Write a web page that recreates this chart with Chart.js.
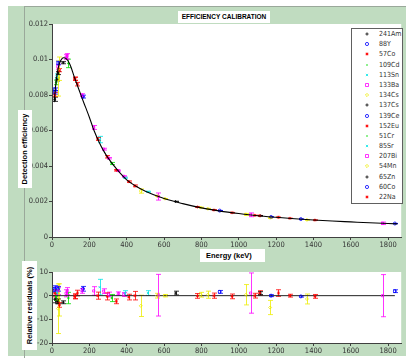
<!DOCTYPE html>
<html>
<head>
<meta charset="utf-8">
<script src="https://cdn.jsdelivr.net/npm/chart.js@4.4.0/dist/chart.umd.min.js"></script>
<style>
  html, body { margin: 0; padding: 0; background: #fff; overflow: hidden; width: 406px; height: 358px; }
  #page { position: relative; width: 406px; height: 358px; overflow: hidden; font-family: 'Liberation Sans', Arial, sans-serif; }
  #panel { position: absolute; left: 8px; top: 6px; width: 398px; height: 350px; background: #c0dcc0; }
  #vrule { position: absolute; left: 24px; top: 6px; width: 1px; height: 352px; background: #9aa89a; }
  #hrule { position: absolute; left: 24px; top: 6px; width: 382px; height: 1px; background: #9aa89a; }
  .plot { position: absolute; left: 0; }
  .box { position: absolute; background: #fff; font-weight: bold; color: #000; white-space: nowrap; }
  #title { left: 178px; top: 11px; width: 92px; height: 12px; line-height: 12px; font-size: 6.5px; text-align: center; }
  #xlabel { left: 200px; top: 249px; width: 65px; height: 13px; line-height: 13px; font-size: 7.5px; padding-left: 6px; box-sizing: border-box; }
  #ylabel { left: -14px; top: 142px; width: 78px; height: 14px; line-height: 14px; font-size: 7.5px; text-align: center; transform: rotate(-90deg); }
  #rlabel { left: -15px; top: 298px; width: 89px; height: 15px; line-height: 15px; font-size: 7.5px; text-align: center; transform: rotate(-90deg); }
  #legend { position: absolute; left: 351px; top: 28px; width: 50px; height: 174px; background: #fff; border: 1px solid #606060; }
  .row { position: relative; height: 10.2px; }
  .row canvas { position: absolute; left: 11px; top: 1px; }
  .row span { position: absolute; left: 27px; top: 0; line-height: 10.2px; font-family: 'Liberation Sans Narrow', 'DejaVu Sans Condensed', sans-serif; font-size: 7px; color: #333; }
  .etick { position: absolute; z-index: 5; transform: translateX(-50%); font-family: 'Liberation Sans Narrow', 'DejaVu Sans Condensed', sans-serif; font-size: 7.5px; line-height: 9px; color: #333; white-space: nowrap; }
</style>
</head>
<body>
<div id="page">
  <div id="panel"></div>
  <div id="vrule"></div>
  <div id="hrule"></div>
  <canvas class="plot" id="eff" width="406" height="250" style="top:0"></canvas>
  <canvas class="plot" id="res" width="406" height="100" style="top:258px"></canvas>
  <div class="box" id="title">EFFICIENCY CALIBRATION</div>
  <div class="box" id="xlabel">Energy (keV)</div>
  <div class="box" id="ylabel">Detection efficiency</div>
  <div class="box" id="rlabel">Relative residuals (%)</div>
  <div id="legend"></div>
</div>
<script>
// sources shown in the legend
const nuclides = ['241Am', '88Y', '57Co', '109Cd', '113Sn', '133Ba', '134Cs', '137Cs', '139Ce',
  '152Eu', '51Cr', '85Sr', '207Bi', '54Mn', '65Zn', '60Co', '22Na'];

// measured peaks: source index, energy (keV), efficiency, its uncertainty, residual (%), its uncertainty
const pointSource = [0, 0, 0, 1, 1, 1, 1, 2, 2, 2, 3, 3, 4, 4, 4, 5, 5, 5, 5, 5, 5, 5, 5,
  6, 6, 6, 6, 6, 6, 6, 6, 6, 7, 7, 8, 8, 9, 9, 9, 9, 9, 9, 9, 9, 9, 9, 9, 9, 9, 9,
  10, 11, 12, 12, 12, 12, 13, 14, 15, 15, 16];
const pointEnergy = [13.9, 26.3, 59.5, 14.1, 15.8, 898.0, 1836.1, 14.4, 122.1, 136.5, 22.1, 88.0,
  24.2, 255.1, 391.7, 30.9, 81.0, 160.6, 223.2, 276.4, 302.9, 356.0, 383.8,
  31.8, 36.4, 475.4, 563.2, 604.7, 795.9, 1038.6, 1168.0, 1365.2, 32.2, 661.7, 33.4, 165.9,
  39.9, 121.8, 244.7, 295.9, 344.3, 411.1, 444.0, 778.9, 867.4, 964.1, 1085.8, 1112.1, 1212.9, 1408.0,
  320.1, 514.0, 75.0, 569.7, 1063.7, 1770.2, 834.8, 1115.5, 1173.2, 1332.5, 1274.5];
const pointEfficiency = [0.00776, 0.00888, 0.00982, 0.00815, 0.00832, 0.001487, 0.00076, 0.00803, 0.00891, 0.00861,
  0.00871, 0.00978, 0.00906, 0.00549, 0.00334, 0.00959, 0.01018, 0.00799, 0.00617, 0.00495, 0.00444, 0.00374, 0.00342,
  0.00893, 0.00948, 0.00259, 0.00231, 0.00216, 0.00166, 0.001275, 0.00108, 0.000966, 0.00924, 0.0020, 0.0098, 0.00791,
  0.0094, 0.00892, 0.00552, 0.00452, 0.00376, 0.00312, 0.00288, 0.00169, 0.00152, 0.00137, 0.00122, 0.0012, 0.00111, 0.000952,
  0.00414, 0.00255, 0.01014, 0.00228, 0.00125, 0.00077, 0.00159, 0.0012, 0.00113, 0.00101, 0.00105];
const pointEfficiencyErr = [0.00012, 0.00009, 0.00006, 0.0001, 0.00008, 0.000009, 0.000005, 0.00012, 0.00009, 0.0001,
  0.00013, 0.00024, 0.00013, 0.00018, 0.00003, 0.00014, 0.00015, 0.00008, 0.00011, 0.00005, 0.00004, 0.00003, 0.00003,
  0.00099, 0.00066, 0.00012, 0.00002, 0.00001, 0.00002, 0.000055, 0.000034, 0.00002, 0.00009, 0.000016, 0.0001, 0.00008,
  0.00009, 0.00009, 0.00008, 0.00007, 0.00004, 0.00004, 0.00005, 0.00002, 0.00002, 0.000014, 0.000012, 0.000012, 0.000016, 0.000008,
  0.00006, 0.000026, 0.00015, 0.0002, 0.000106, 0.000069, 0.000024, 0.000007, 0.000005, 0.000003, 0.000006];
const pointResidual = [-1.5, -2.4, -2.8, 3.0, 2.5, 1.6, 1.9, 1.0, -0.3, 1.1, -0.5, -1.0, 1.5, 3.6, 1.1,
  2.0, 1.9, 2.0, 2.0, 1.9, 0.5, 0.9, 0.5, -5.5, -1.8, -4.3, 0.0, 0.0, 0.4, 0.4, -5.0, -1.4, -2.4, 1.1, 2.9, 2.9,
  -3.9, -0.3, 0.0, -0.3, -2.4, -0.6, 0.0, -0.1, 0.0, -0.3, 0.0, 1.1, 1.1, -0.3,
  -1.0, 1.1, 1.0, 0.2, 1.1, 0.0, 0.4, 1.1, 0.0, -0.3, 0.0];
const pointResidualErr = [1.5, 1.0, 0.6, 1.2, 1.0, 0.6, 0.6, 1.5, 1.0, 1.2, 1.5, 2.4, 1.5, 3.3, 1.0,
  1.5, 1.5, 1.0, 1.8, 1.0, 1.0, 0.7, 0.8, 10.5, 6.8, 4.5, 1.0, 0.5, 1.0, 4.3, 3.0, 2.1, 1.0, 0.8, 1.0, 1.0,
  1.0, 1.0, 1.5, 1.5, 1.0, 1.2, 1.8, 1.0, 1.1, 1.0, 1.0, 1.0, 1.4, 0.8,
  1.5, 1.0, 1.5, 8.8, 8.5, 8.9, 1.5, 0.6, 0.4, 0.3, 0.6];

// fitted efficiency curve
const fitEnergy = [12, 14, 16, 18, 20, 25, 30, 35, 40, 50, 60, 70, 80, 90, 100, 120, 140, 160, 180, 200,
  225, 250, 275, 300, 350, 400, 450, 500, 600, 700, 800, 900, 1000, 1100, 1200, 1300, 1400, 1500, 1600, 1700, 1800, 1850];
const fitEfficiency = [0.0076, 0.0079, 0.00815, 0.00838, 0.00858, 0.009, 0.00935, 0.0096, 0.00978, 0.01, 0.0101, 0.01008,
  0.01, 0.00984, 0.00962, 0.009, 0.00842, 0.00785, 0.0073, 0.00675, 0.006, 0.0054, 0.00488, 0.00446, 0.00378, 0.00322,
  0.00286, 0.00258, 0.00217, 0.00188, 0.00164, 0.00146, 0.00132, 0.0012, 0.00111, 0.00103, 0.00096, 0.0009, 0.00085,
  0.0008, 0.00076, 0.00074];

// zero reference line of the residual panel
const baselineEnergy = [0, 1836];
const baselineResidual = [0, 0];

// axis ticks
const energyTicks = [0, 200, 400, 600, 800, 1000, 1200, 1400, 1600, 1800];
const efficiencyTicks = [0, 0.002, 0.004, 0.006, 0.008, 0.01, 0.012];
const residualTicks = [-20, -10, 0, 10];

// styles (MATLAB colour / marker cycle)
const palette = ['#000000', '#0000ff', '#ff0000', '#00dd00', '#00e5e5', '#ff00ff', '#eeee00'];
const markerCycle = ['cross', 'circle', 'star', 'dot', 'crossRot', 'rect', 'rectRot'];
const axisColor = '#404040';
const tickFont = { family: "'Liberation Sans Narrow', 'DejaVu Sans Condensed', sans-serif", size: 7.5 };

function markerStyle(k) {
  const m = markerCycle[k % 7], c = palette[k % 7];
  const dot = m === 'dot';
  return {
    pointStyle: dot ? 'circle' : m,
    pointRadius: dot ? 0.8 : 1.5,
    pointBorderWidth: 0.8,
    borderColor: c,
    backgroundColor: dot ? c : 'rgba(0,0,0,0)',
    showLine: false,
    order: 1
  };
}

function seriesFor(k, values, errs) {
  const idx = pointSource.map((s, i) => (s === k ? i : -1)).filter(i => i >= 0);
  return Object.assign({
    label: nuclides[k],
    data: idx.map(i => ({ x: pointEnergy[i], y: values[i] })),
    errors: idx.map(i => errs[i])
  }, markerStyle(k));
}

const whiteArea = {
  id: 'whiteArea',
  beforeDraw(chart) {
    const { ctx, chartArea: a } = chart;
    ctx.save();
    ctx.fillStyle = '#fff';
    ctx.fillRect(a.left, a.top, a.right - a.left, a.bottom - a.top);
    ctx.restore();
  }
};

const errorBars = {
  id: 'errorBars',
  beforeDatasetsDraw(chart) {
    const { ctx, chartArea: a, scales: { x, y } } = chart;
    ctx.save();
    ctx.beginPath();
    ctx.rect(a.left, a.top, a.right - a.left, a.bottom - a.top);
    ctx.clip();
    ctx.lineWidth = 0.8;
    chart.data.datasets.forEach(ds => {
      if (!ds.errors) return;
      ctx.strokeStyle = ds.borderColor;
      ds.data.forEach((p, j) => {
        const e = ds.errors[j];
        const px = Math.round(x.getPixelForValue(p.x)) + 0.5;
        const t = y.getPixelForValue(p.y + e), b = y.getPixelForValue(p.y - e);
        ctx.beginPath();
        ctx.moveTo(px, t); ctx.lineTo(px, b);
        ctx.moveTo(px - 2.5, t); ctx.lineTo(px + 2.5, t);
        ctx.moveTo(px - 2.5, b); ctx.lineTo(px + 2.5, b);
        ctx.stroke();
      });
    });
    ctx.restore();
  }
};

function axis(min, max, ticks, fmt, fit, showLabels) {
  return {
    type: 'linear', min, max,
    afterBuildTicks: s => { s.ticks = ticks.map(v => ({ value: v })); },
    afterFit: fit,
    ticks: { display: showLabels, font: tickFont, color: '#333', padding: 1, maxRotation: 0, autoSkip: false, callback: fmt },
    grid: { drawOnChartArea: false, drawTicks: true, tickLength: 3, color: axisColor },
    border: { display: true, color: axisColor, width: 1 }
  };
}

const plain = v => String(v);
const effFmt = v => String(parseFloat(v.toFixed(4)));

Chart.defaults.animation = false;

new Chart(document.getElementById('eff'), {
  type: 'scatter',
  data: {
    datasets: [{
      type: 'line',
      label: 'fit',
      data: fitEnergy.map((e, i) => ({ x: e, y: fitEfficiency[i] })),
      borderColor: '#000',
      borderWidth: 1.1,
      pointRadius: 0,
      showLine: true,
      cubicInterpolationMode: 'monotone',
      order: 0
    }].concat(nuclides.map((_, k) => seriesFor(k, pointEfficiency, pointEfficiencyErr)))
  },
  options: {
    responsive: false,
    devicePixelRatio: 1,
    events: [],
    layout: { padding: { top: 24, right: 3, left: 0, bottom: 0 } },
    plugins: { legend: { display: false }, tooltip: { enabled: false } },
    scales: {
      x: axis(0, 1870, energyTicks, plain, s => { s.height = 13; }, true),
      y: axis(0, 0.012, efficiencyTicks, effFmt, s => { s.width = 52; }, true)
    }
  },
  plugins: [whiteArea, errorBars]
});

const resCanvas = document.getElementById('res');
const resChart = new Chart(resCanvas, {
  type: 'scatter',
  data: {
    datasets: [{
      type: 'line',
      label: 'zero',
      data: baselineEnergy.map((e, i) => ({ x: e, y: baselineResidual[i] })),
      borderColor: '#222',
      borderWidth: 1,
      pointRadius: 0,
      showLine: true,
      order: 2
    }].concat(nuclides.map((_, k) => seriesFor(k, pointResidual, pointResidualErr)))
  },
  options: {
    responsive: false,
    devicePixelRatio: 1,
    events: [],
    layout: { padding: { top: 14, right: 3, left: 0, bottom: 0 } },
    plugins: { legend: { display: false }, tooltip: { enabled: false } },
    scales: {
      x: axis(0, 1870, energyTicks, plain, s => { s.height = 15; }, false),
      y: axis(-20, 10, residualTicks, plain, s => { s.width = 52; }, true)
    }
  },
  plugins: [whiteArea, errorBars]
});

// energy labels of the residual panel as text placed with the chart's x scale
const page = document.getElementById('page');
const xr = resChart.scales.x;
energyTicks.forEach(v => {
  const t = document.createElement('div');
  t.className = 'etick';
  t.textContent = String(v);
  t.style.left = (resCanvas.offsetLeft + xr.getPixelForValue(v)) + 'px';
  t.style.top = (resCanvas.offsetTop + xr.top + 3) + 'px';
  page.appendChild(t);
});

// legend box in the top-right corner
function drawMarker(ctx, k, cx, cy) {
  const m = markerCycle[k % 7], c = palette[k % 7], r = 1.6;
  ctx.strokeStyle = c; ctx.fillStyle = c; ctx.lineWidth = 0.8;
  ctx.beginPath();
  if (m === 'cross' || m === 'star') { ctx.moveTo(cx - r, cy); ctx.lineTo(cx + r, cy); ctx.moveTo(cx, cy - r); ctx.lineTo(cx, cy + r); }
  if (m === 'crossRot' || m === 'star') { ctx.moveTo(cx - 1.1, cy - 1.1); ctx.lineTo(cx + 1.1, cy + 1.1); ctx.moveTo(cx + 1.1, cy - 1.1); ctx.lineTo(cx - 1.1, cy + 1.1); }
  if (m === 'circle') ctx.arc(cx, cy, r, 0, Math.PI * 2);
  if (m === 'rect') ctx.rect(cx - 1.5, cy - 1.5, 3, 3);
  if (m === 'rectRot') { ctx.moveTo(cx, cy - r); ctx.lineTo(cx + r, cy); ctx.lineTo(cx, cy + r); ctx.lineTo(cx - r, cy); ctx.closePath(); }
  if (m === 'dot') { ctx.arc(cx, cy, 0.8, 0, Math.PI * 2); ctx.fill(); }
  else ctx.stroke();
}

const legend = document.getElementById('legend');
nuclides.forEach((name, k) => {
  const row = document.createElement('div');
  row.className = 'row';
  const c = document.createElement('canvas');
  c.width = 8; c.height = 8;
  drawMarker(c.getContext('2d'), k, 4, 4);
  const label = document.createElement('span');
  label.textContent = name;
  row.appendChild(c);
  row.appendChild(label);
  legend.appendChild(row);
});
</script>
</body>
</html>
